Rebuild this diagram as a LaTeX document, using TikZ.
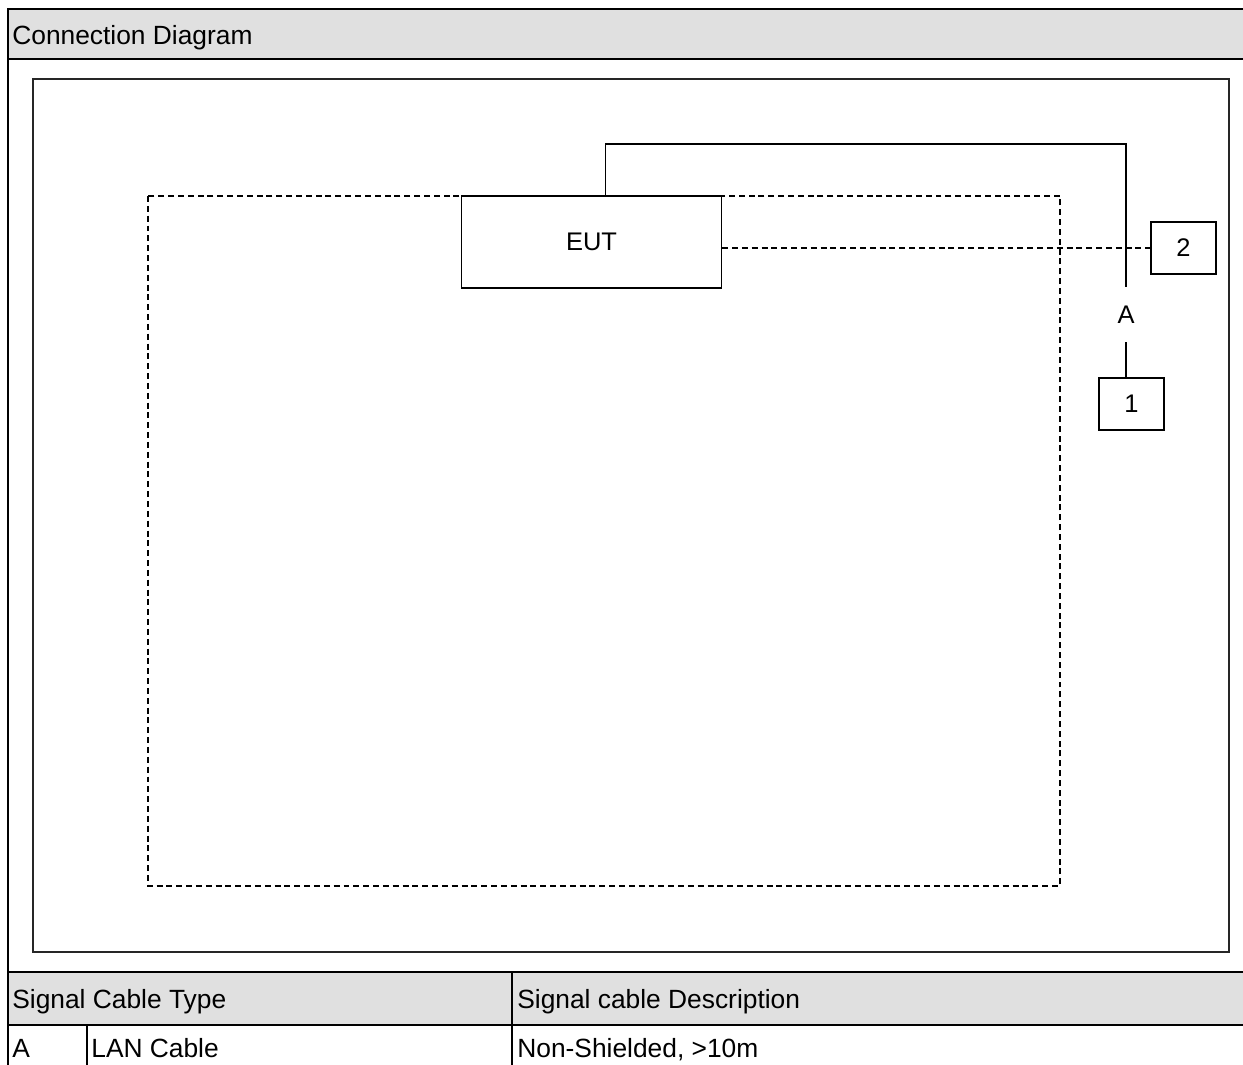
\documentclass[tikz,border=0pt]{standalone}
\usepackage{fontspec}
\setmainfont{Liberation Sans}
\usetikzlibrary{positioning,calc}
\definecolor{hdrgray}{RGB}{224,224,224}

\begin{document}
\begin{tikzpicture}[
  x=0.02cm, y=-0.02cm,
  frame/.style={draw=black,line width=1.2pt},
  cell/.style={anchor=base west,inner sep=0pt,font=\fontsize{15}{18}\selectfont},
  box/.style={draw,line width=0.8pt,fill=white,inner sep=0pt,font=\fontsize{14.5}{17}\selectfont},
  cable/.style={line width=0.8pt},
  shield/.style={line width=0.8pt,dash pattern=on 3.4pt off 2.2pt}
]
\useasboundingbox (0,0) rectangle (1243,1064);
\clip (0,0) rectangle (1243,1064);
% header bands and outer frame
\fill[hdrgray] (8,9) rectangle (1260,59);
\fill[hdrgray] (8,972) rectangle (1260,1025);
\draw[frame] (1260,9) -- (8,9) -- (8,1100);
\draw[frame] (8,59) -- (1260,59);
\draw[frame] (8,972) -- (1260,972);
\draw[frame] (8,1025) -- (1260,1025);
\draw[frame] (512,972) -- (512,1100);
\draw[frame] (87,1025) -- (87,1100);
\node[cell] (title) at (12,44.5) {Connection Diagram};
% inner frame
\draw[draw=black!85,line width=1.1pt] (33,79) rectangle (1229,952);
% shielded area
\draw[shield] (148,196) rectangle (1060,886);
% equipment
\node[box,minimum width=5.2cm,minimum height=1.84cm] (eut) at (591.5,242) {EUT};
\node[box,minimum width=1.3cm,minimum height=1.04cm] (aux2) at (1183.5,248) {2};
\node[box,minimum width=1.3cm,minimum height=1.04cm] (aux1) at (1131.5,404) {1};
\node[inner sep=0pt,minimum height=1.1cm,font=\fontsize{14.5}{17}\selectfont] (lblA) at (1126,314.5) {A};
% cables
\coordinate (bend) at (1126,144);
\draw[cable] ([xshift=0.28cm]eut.north) |- (bend) -- (lblA.north);
\draw[cable] (lblA.south) -- (lblA.south |- aux1.north);
\draw[shield] (aux2.west -| eut.east) -- (aux2.west);
% cable table
\node[cell] (typehd) at (12,1008) {Signal Cable Type};
\node[cell] (deschd) at (517,1008) {Signal cable Description};
\node[cell] (typeid) at (12,1057) {A};
\node[cell] (typenm) at (91,1057) {LAN Cable};
\node[cell] (typeds) at (517,1057) {Non-Shielded, >10m};
\end{tikzpicture}
\end{document}
